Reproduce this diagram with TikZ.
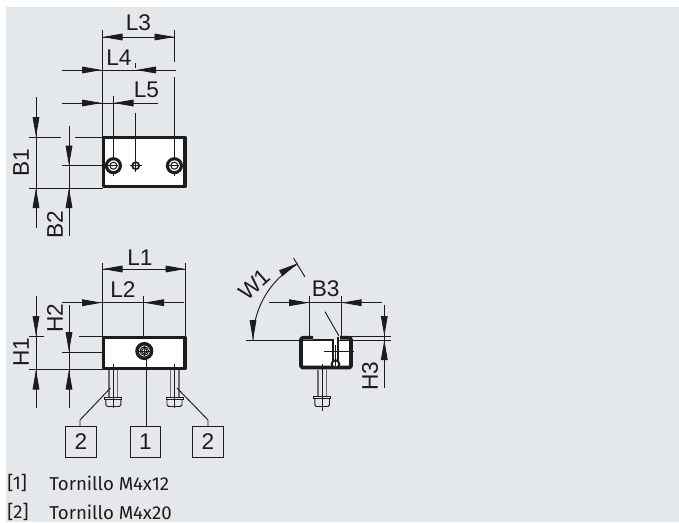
\documentclass[tikz,border=0pt]{standalone}
\usepackage{fontspec}
\setmainfont{Fira Sans}
\newfontfamily\dimfont{Liberation Sans}
\usetikzlibrary{arrows.meta}
\definecolor{bgc}{HTML}{E5E8EB}
\definecolor{ink}{HTML}{1C1C1C}
\definecolor{boltc}{HTML}{6E6E6E}
\tikzset{
  x=0.75pt,y=-0.75pt,
  thinl/.style={draw=ink,line width=0.7pt},
  tip/.style={thinl,-{Triangle[length=15pt,width=5pt]},fill=ink,shorten >=0pt},
  wall/.style={draw=ink,line width=2.8pt,fill=white,line join=round},
  ring/.style={draw=ink,line width=2.3pt,fill=white},
  ringthin/.style={draw=ink,line width=0.8pt},
  boltl/.style={draw=boltc,line width=1.2pt},
  dimlabel/.style={font=\dimfont\fontsize{17}{17}\selectfont,text=ink,inner sep=0pt},
  numbox/.style={draw=ink,line width=0.7pt,fill=none,minimum size=23pt,inner sep=0pt,font=\dimfont\fontsize{17}{17}\selectfont,text=ink},
  listtext/.style={anchor=west,font=\fontsize{14}{14}\selectfont,text=ink,inner sep=0pt}
}
\begin{document}
\begin{tikzpicture}
\useasboundingbox (0,0) rectangle (679,522);
\fill[bgc] (6,7) rectangle (679,522);
% top view dimension lines
\draw[thinl] (102.5,30)--(102.5,137);
\draw[thinl] (174.5,30)--(174.5,62) (174.5,77)--(174.5,172);
\draw[thinl] (135.7,63)--(135.7,68) (135.7,113)--(135.7,172);
\draw[thinl] (113.5,96)--(113.5,172);
\draw[thinl] (102.5,37)--(174.5,37);
\draw[thinl] (62,70)--(175.5,70);
\draw[thinl] (62,103)--(158,103);
\draw[tip] (122.5,37)--(102.5,37);
\draw[tip] (154.5,37)--(174.5,37);
\draw[tip] (82,70)--(102,70);
\draw[tip] (156,70)--(136,70);
\draw[tip] (82,103)--(102,103);
\draw[tip] (134,103)--(113.5,103);
\draw[thinl] (36,97)--(36,228);
\draw[thinl] (69,126)--(69,236);
\draw[thinl] (29,137)--(61,137) (75,137)--(103,137);
\draw[thinl] (29,188)--(103,188);
\draw[thinl] (62,165.7)--(106,165.7);
\draw[tip] (36,117)--(36,137);
\draw[tip] (36,208)--(36,188);
\draw[tip] (69,145)--(69,165.5);
\draw[tip] (69,208)--(69,188);
\node[dimlabel] (l3) at (138.5,23) {L3};
\node[dimlabel] (l4) at (119,58) {L4};
\node[dimlabel] (l5) at (146.5,90) {L5};
\node[dimlabel,rotate=90] (b1) at (21,163) {B1};
\node[dimlabel,rotate=90] (b2) at (55,225) {B2};
% top view body
\draw[wall] (103.5,137.5) rectangle (185,186.5);
\draw[thinl] (113.5,137)--(113.5,176) (135.7,137)--(135.7,172) (174.5,137)--(174.5,176);
\foreach \cx/\nm in {113.4/a,174.4/b}{
  \draw[ring] (\cx,165.7) circle (7);
  \draw[ringthin] (\cx,165.7) circle (3.5);
  \draw[thinl] (\cx-5,165.7)--(\cx+5,165.7);
}
\draw[draw=ink,line width=1.3pt,fill=white] (135.7,165.7) circle (3.5);
\draw[thinl] (130,165.7)--(141.5,165.7) (135.7,160)--(135.7,172);
% front view dimensions
\draw[thinl] (102.5,263)--(102.5,336);
\draw[thinl] (185.5,263)--(185.5,336);
\draw[thinl] (143.5,296)--(143.5,345);
\draw[thinl] (102.5,269)--(185.5,269);
\draw[thinl] (62,302.7)--(184,302.7);
\draw[tip] (122.5,269)--(102.5,269);
\draw[tip] (165.5,269)--(185.5,269);
\draw[tip] (82,302.7)--(102,302.7);
\draw[tip] (164,302.7)--(144,302.7);
\draw[thinl] (36,296)--(36,408);
\draw[thinl] (69,305)--(69,408);
\draw[thinl] (29,336)--(44,336) (79,336)--(103,336);
\draw[thinl] (29,369.5)--(103,369.5);
\draw[thinl] (62,352)--(136,352);
\draw[tip] (36,316)--(36,336);
\draw[tip] (36,389)--(36,369.5);
\draw[tip] (69,332)--(69,352);
\draw[tip] (69,390)--(69,369.5);
\node[dimlabel] (l1) at (140,258) {L1};
\node[dimlabel] (l2) at (123,290) {L2};
\node[dimlabel,rotate=90] (h1) at (21,352) {H1};
\node[dimlabel,rotate=90] (h2) at (55,318) {H2};
% bolts
\foreach \cx in {113.4,174.5}{
  \draw[boltl] (\cx-4.2,370)--(\cx-4.2,397) (\cx+4.2,370)--(\cx+4.2,397);
  \draw[draw=ink,line width=0.7pt] (\cx-8.5,397.5)--(\cx+8.5,397.5)--(\cx+8.5,399.5)--(\cx-8.5,399.5)--cycle;
  \draw[draw=ink,line width=0.7pt,rounded corners=1.2pt] (\cx-7.5,399.5)--(\cx-7.5,406.5)--(\cx+7.5,406.5)--(\cx+7.5,399.5);
}
% front view body
\draw[wall] (103.5,337.5) rectangle (185,368.5);
\draw[thinl] (113.4,364)--(113.4,408) (174.5,364)--(174.5,408);
\draw[draw=ink,line width=2.6pt,fill=white] (144.3,351) circle (7.3);
\draw[ringthin] (144.3,351) circle (4.2);
\draw[ringthin] (144.3,351) circle (2.6);
\draw[thinl] (139,351)--(149.5,351) (144.3,346)--(144.3,356);
% balloons
\node[numbox] (n2a) at (81,442) {2};
\node[numbox] (n1) at (145.5,442) {1};
\node[numbox] (n2b) at (208,442) {2};
\coordinate (sa) at (110.5,388);
\coordinate (ka) at (80,420);
\coordinate (sb) at (177,388);
\coordinate (kb) at (208,420);
\coordinate (sc) at (146,358);
\draw[thinl] (sa)--(ka)--(ka|-n2a.north);
\draw[thinl] (sb)--(kb)--(kb|-n2b.north);
\draw[thinl] (sc)--(sc|-n1.north);
% side view
\draw[thinl] (309,296)--(309,336) (341.5,296)--(341.5,336);
\draw[thinl] (269,302.7)--(381.7,302.7);
\draw[tip] (289,302.7)--(309,302.7);
\draw[tip] (362,302.7)--(341.7,302.7);
\node[dimlabel] (b3) at (325.7,289) {B3};
\node[dimlabel,rotate=42] (w1) at (254.5,284.5) {W1};
\draw[thinl] (293.5,258)--(305,277);
\draw[thinl] (253,340) .. controls (253,309) and (269.6,280.2) .. (296.5,264.7);
\draw[tip] (253,320)--(253,340);
\draw[tip] (282,272.5)--(298,263.2);
\draw[thinl] (384.3,305)--(384.3,388);
\draw[tip] (384.3,316)--(384.3,336);
\draw[tip] (384.3,360)--(384.3,340);
\node[dimlabel,rotate=90] (h3) at (370,376) {H3};
\draw[boltl] (318,369.5)--(318,396) (326.5,369.5)--(326.5,396);
\draw[draw=ink,line width=0.7pt] (313.5,396.5)--(330.5,396.5)--(330.5,398.5)--(313.5,398.5)--cycle;
\draw[draw=ink,line width=0.7pt,rounded corners=1.2pt] (314.8,398.5)--(314.8,406.5)--(329.5,406.5)--(329.5,398.5);
% side body: open top between the lips
\fill[white] (301,338) rectangle (351,367.5);
\fill[bgc] (314,334) rectangle (339.5,339.5);
\draw[draw=ink,line width=2.8pt,line join=round,rounded corners=1.5pt] (313,337.8)--(301,337.8)--(301,367.5)--(351,367.5)--(351,337.8)--(340,337.8);
\draw[draw=ink,line width=1.2pt] (313,340)--(333,340);
\draw[draw=ink,line width=1.1pt] (333,339)--(333,360.5) (338,336.5)--(338,360.5);
\draw[draw=ink,line width=1.5pt,fill=white] (335.5,364) circle (3.8);
\draw[thinl] (246,340.3)--(313,340.3);
\draw[thinl] (340,336)--(391,336) (338,340.3)--(391,340.3);
\draw[thinl] (324,351.7)--(354,351.7) (335.5,345)--(335.5,367);
\draw[thinl] (322.3,364)--(322.3,411);
\draw[thinl] (325,311.7)--(339,336);
% list
\node[listtext] (t1) at (7,483) {[1]};
\node[listtext] (t2) at (49,483) {Tornillo M4x12};
\node[listtext] (t3) at (7,512) {[2]};
\node[listtext] (t4) at (49,512) {Tornillo M4x20};
\end{tikzpicture}
\end{document}
